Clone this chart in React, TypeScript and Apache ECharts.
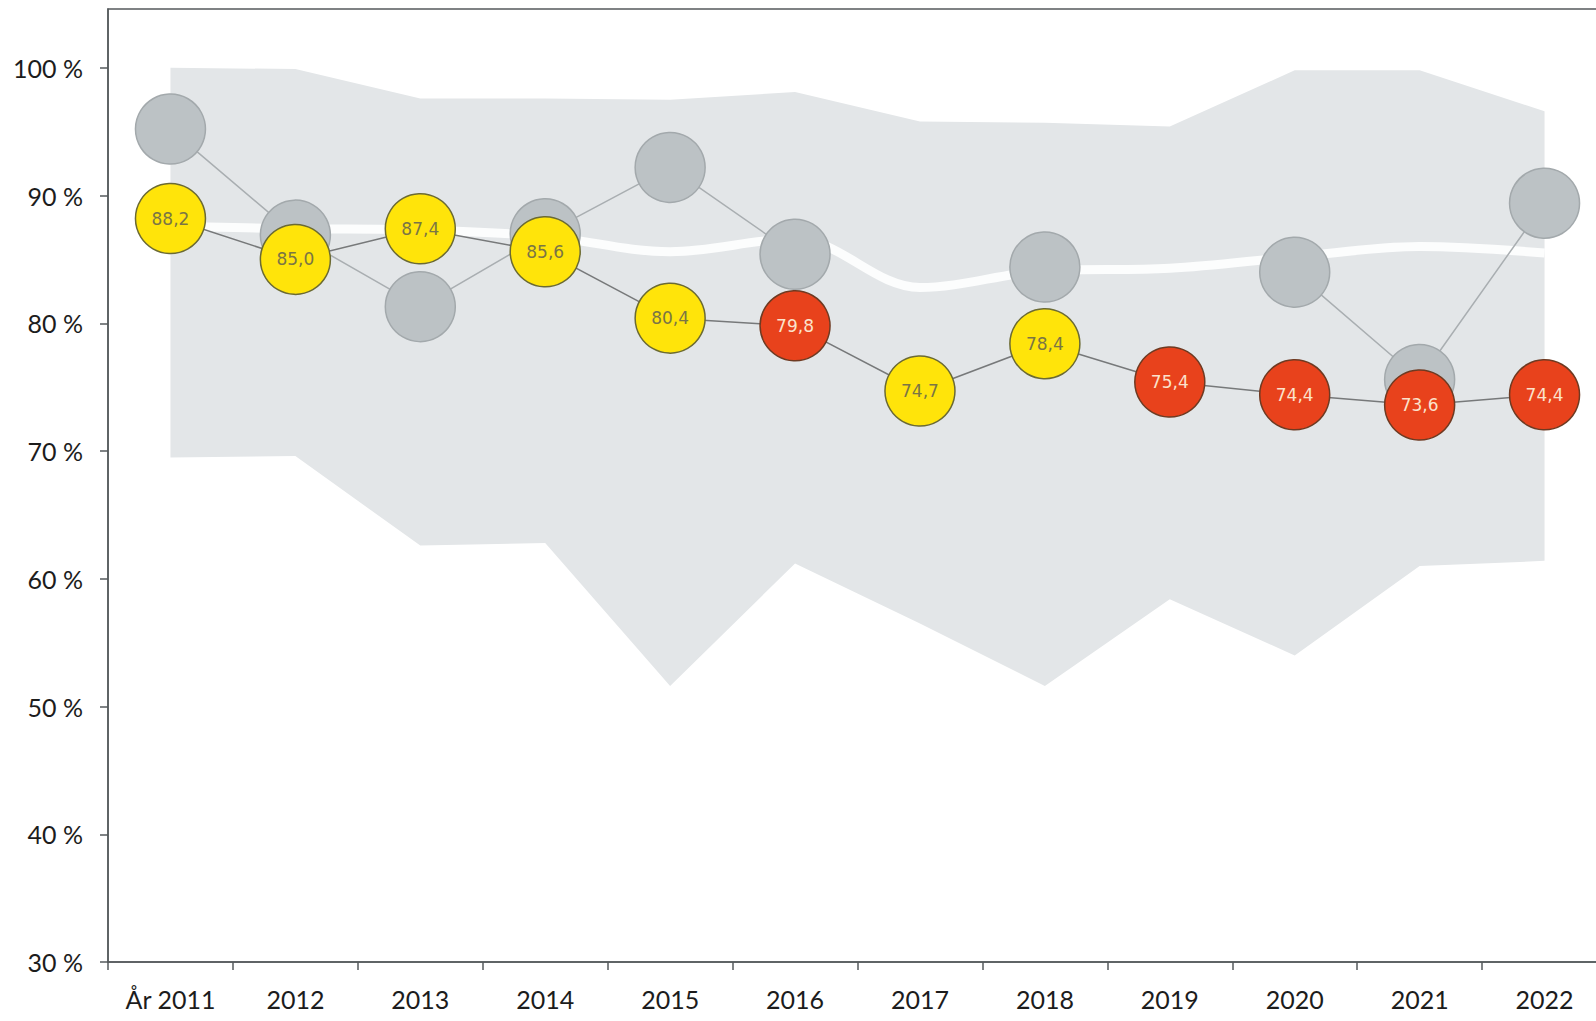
import React, { useEffect, useRef } from "react";
import * as echarts from "echarts";

const years = ["År 2011", "2012", "2013", "2014", "2015", "2016", "2017", "2018", "2019", "2020", "2021", "2022"];
const mainValues = [88.2, 85.0, 87.4, 85.6, 80.4, 79.8, 74.7, 78.4, 75.4, 74.4, 73.6, 74.4];
const mainStatus = ["yellow", "yellow", "yellow", "yellow", "yellow", "red", "yellow", "yellow", "red", "red", "red", "red"];
const compareValues: (number | null)[] = [95.2, 86.9, 81.3, 87.0, 92.2, 85.4, null, 84.4, null, 84.0, 75.6, 89.4];
const bandUpper = [100.0, 99.9, 97.6, 97.6, 97.5, 98.1, 95.8, 95.7, 95.4, 99.8, 99.8, 96.6];
const bandLower = [69.5, 69.6, 62.6, 62.8, 51.6, 61.2, 56.5, 51.6, 58.4, 54.0, 61.0, 61.4];
const bandMedian = [87.6, 87.4, 87.3, 86.8, 85.6, 86.6, 82.8, 84.1, 84.3, 85.2, 86.0, 85.5];
const yTicks = [30, 40, 50, 60, 70, 80, 90, 100];

const statusStyle: Record<string, { fill: string; border: string; text: string }> = {
  yellow: { fill: "#ffe40a", border: "#6b6a33", text: "#7a7545" },
  red: { fill: "#e8421c", border: "#6e3a22", text: "#fbe2cc" },
};

export default function App() {
  const ref = useRef<HTMLDivElement>(null);
  useEffect(() => {
    if (!ref.current) return;
    const chart = echarts.init(ref.current, undefined, { renderer: "svg" });
    const fmt = (v: number) => v.toFixed(1).replace(".", ",");
    chart.setOption({
      animation: false,
      backgroundColor: "#ffffff",
      grid: {
        left: 108,
        width: 1499,
        top: 9,
        bottom: 59,
        outerBoundsMode: "none",
        containLabel: false,
        show: true,
        borderColor: "#555a5c",
        borderWidth: 1.5,
        backgroundColor: "transparent",
      },
      xAxis: {
        type: "category",
        data: years,
        boundaryGap: true,
        axisLine: { show: true, lineStyle: { color: "#555a5c", width: 1.5 } },
        axisTick: { show: true, length: 8, lineStyle: { color: "#555a5c", width: 1.5 } },
        axisLabel: { fontSize: 25, color: "#1c1c1c", fontFamily: "Lato", margin: 24 },
        splitLine: { show: false },
      },
      yAxis: {
        type: "value",
        min: 30,
        max: 104.6,
        axisLine: { show: true, lineStyle: { color: "#555a5c", width: 1.5 } },
        axisTick: { show: true, length: 8, customValues: yTicks, lineStyle: { color: "#555a5c", width: 1.5 } },
        axisLabel: {
          customValues: yTicks,
          formatter: (v: number) => `${v} %`,
          fontSize: 25,
          color: "#1c1c1c",
          fontFamily: "Lato",
          margin: 25,
        },
        splitLine: { show: false },
      },
      series: [
        {
          name: "lower",
          type: "line",
          stack: "band",
          data: bandLower,
          symbol: "none",
          lineStyle: { opacity: 0, width: 0 },
          silent: true,
          z: 1,
        },
        {
          name: "range",
          type: "line",
          stack: "band",
          data: bandUpper.map((u, i) => +(u - bandLower[i]).toFixed(2)),
          symbol: "none",
          lineStyle: { opacity: 0, width: 0 },
          areaStyle: { color: "#e3e6e8", opacity: 1 },
          silent: true,
          z: 1,
        },
        {
          name: "median",
          type: "line",
          data: bandMedian,
          symbol: "none",
          smooth: 0.35,
          lineStyle: { color: "#fcfdfd", width: 9 },
          silent: true,
          z: 2,
        },
        {
          name: "compare",
          type: "line",
          data: compareValues,
          connectNulls: false,
          symbol: "circle",
          symbolSize: 70,
          showAllSymbol: true,
          itemStyle: { color: "#bcc2c5", borderColor: "#a3a9ac", borderWidth: 1.5 },
          lineStyle: { color: "#a9aeb1", width: 1.5 },
          z: 3,
        },
        {
          name: "main",
          type: "line",
          data: mainValues.map((v, i) => ({
            value: v,
            itemStyle: {
              color: statusStyle[mainStatus[i]].fill,
              borderColor: statusStyle[mainStatus[i]].border,
              borderWidth: 1.5,
            },
            label: { color: statusStyle[mainStatus[i]].text },
          })),
          symbol: "circle",
          symbolSize: 70,
          showAllSymbol: true,
          lineStyle: { color: "#77797a", width: 1.5 },
          label: {
            show: true,
            position: "inside",
            fontSize: 17,
            fontFamily: "DejaVu Sans",
            formatter: (p: any) => fmt(p.value),
          },
          z: 4,
        },
      ],
    });
    return () => chart.dispose();
  }, []);
  return (
    <div
      ref={ref}
      style={{ position: "absolute", left: 0, top: 0, width: 1596, height: 1021, background: "#fff" }}
    />
  );
}
